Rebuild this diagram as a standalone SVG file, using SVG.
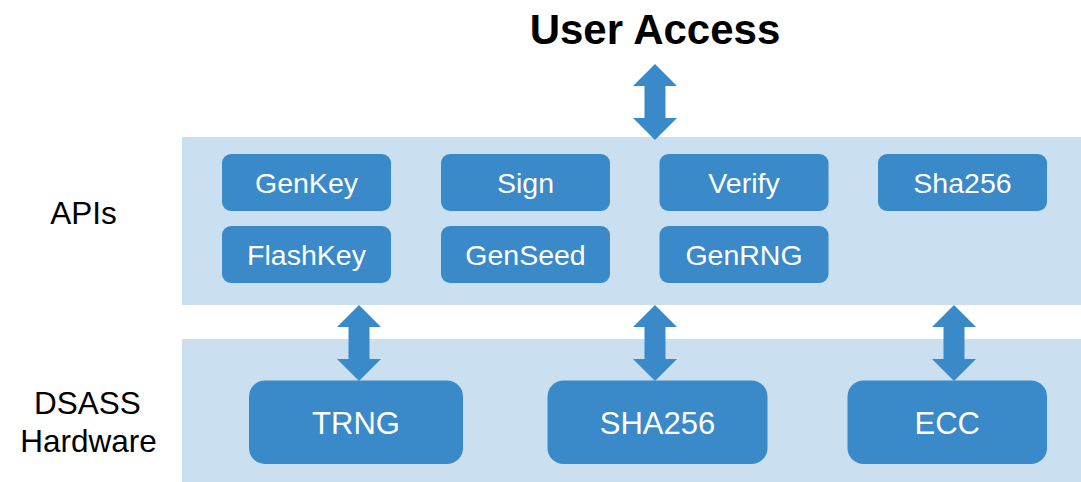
<svg xmlns="http://www.w3.org/2000/svg" width="1081" height="482" viewBox="0 0 1081 482">
<style>
.panel{fill:#CADFEF}
.box{fill:#3A89C9}
.arr{fill:#3A89C9}
.bt{font-family:"Liberation Sans",Arial,sans-serif;font-size:28.5px;fill:#FFFFFF;text-anchor:middle}
.ht{font-family:"Liberation Sans",Arial,sans-serif;font-size:31px;fill:#FFFFFF;text-anchor:middle}
.lt{font-family:"Liberation Sans",Arial,sans-serif;font-size:31.5px;fill:#000000;text-anchor:middle}
.tt{font-family:"Liberation Sans",Arial,sans-serif;font-size:42px;font-weight:bold;fill:#000000;text-anchor:middle}
</style>
<defs>
<path id="dbl" d="M0,0 L22,22 L10.5,22 L10.5,54 L22,54 L0,76 L-22,54 L-10.5,54 L-10.5,22 L-22,22 Z"/>
</defs>
<rect width="1081" height="482" fill="#FFFFFF"/>
<g id="title"><text class="tt" x="655" y="43.5">User Access</text></g>
<g id="api-panel">
<rect class="panel" x="182" y="137" width="899" height="168"/>
<text class="lt" x="83.5" y="223.5">APIs</text>
</g>
<g id="hw-panel">
<rect class="panel" x="182" y="339" width="899" height="143"/>
<text class="lt" x="87.5" y="414">DSASS</text>
<text class="lt" x="88.5" y="452">Hardware</text>
</g>
<g id="GenKey"><rect class="box" x="222" y="154" width="169" height="57" rx="9"/><text class="bt" x="306.5" y="192.7">GenKey</text></g>
<g id="Sign"><rect class="box" x="441" y="154" width="169" height="57" rx="9"/><text class="bt" x="525.5" y="192.7">Sign</text></g>
<g id="Verify"><rect class="box" x="659.5" y="154" width="169" height="57" rx="9"/><text class="bt" x="744" y="192.7">Verify</text></g>
<g id="Sha256"><rect class="box" x="878" y="154" width="169" height="57" rx="9"/><text class="bt" x="962.5" y="192.7">Sha256</text></g>
<g id="FlashKey"><rect class="box" x="222" y="226" width="169" height="57" rx="9"/><text class="bt" x="306.5" y="264.7">FlashKey</text></g>
<g id="GenSeed"><rect class="box" x="441" y="226" width="169" height="57" rx="9"/><text class="bt" x="525.5" y="264.7">GenSeed</text></g>
<g id="GenRNG"><rect class="box" x="659.5" y="226" width="169" height="57" rx="9"/><text class="bt" x="744" y="264.7">GenRNG</text></g>
<g id="TRNG"><rect class="box" x="249" y="380.5" width="214" height="83.5" rx="16"/><text class="ht" x="356" y="434">TRNG</text></g>
<g id="SHA256"><rect class="box" x="547.5" y="380.5" width="220" height="83.5" rx="16"/><text class="ht" x="657.5" y="434">SHA256</text></g>
<g id="ECC"><rect class="box" x="847.5" y="380.5" width="199.5" height="83.5" rx="16"/><text class="ht" x="947.2" y="434">ECC</text></g>
<g id="connectors">
<use href="#dbl" class="arr" x="655" y="64"/>
<use href="#dbl" class="arr" x="359" y="305"/>
<use href="#dbl" class="arr" x="655" y="305"/>
<use href="#dbl" class="arr" x="954" y="305"/>
</g>
</svg>
